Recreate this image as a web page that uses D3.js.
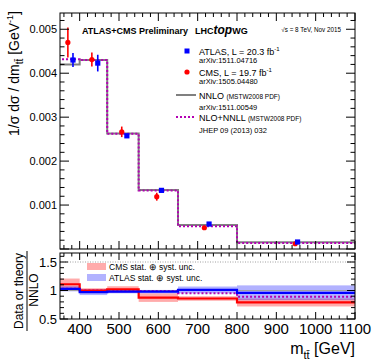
<!DOCTYPE html>
<html><head><meta charset="utf-8">
<script src="https://cdn.jsdelivr.net/npm/d3@7"></script>
<style>body{margin:0;background:#fff}svg{display:block;font-family:"Liberation Sans",Arial,sans-serif}</style>
</head><body><svg id="c" width="374" height="363"></svg>
<script>
// ---- data ----
const binEdges = [345, 400, 470, 550, 650, 800, 1100];
const nnlo     = [0.00420, 0.00430, 0.00263, 0.00134, 0.000545, 0.000152];
const nlonnll  = [0.00432, 0.00430, 0.00262, 0.00133, 0.000520, 0.000137];
const atlasX   = [383, 446, 520, 608, 729, 954];
const atlasY   = [0.00430, 0.00423, 0.002575, 0.001334, 0.000568, 0.000159];
const atlasErr = [0.00016, 0.00019, 0.00005, 0.00003, 0.00002, 0.00001];
const cmsX     = [370, 431, 507, 596, 717, 948];
const cmsY     = [0.00470, 0.00431, 0.002666, 0.00119, 0.000484, 0.00012];
const cmsErr   = [0.00034, 0.00016, 0.00012, 0.00009, 0.00002, 0.00001];
const cmsRatio      = [1.11, 1.00, 1.02, 0.875, 0.86, 0.79];
const cmsRatioErr   = [0.10, 0.04, 0.055, 0.075, 0.04, 0.07];
const atlasRatio    = [1.03, 0.97, 0.98, 0.98, 1.01, 0.96];
const atlasRatioErr = [0.045, 0.05, 0.03, 0.03, 0.06, 0.13];
const nlonnllRatio  = [1.03, 1.00, 1.00, 0.99, 0.95, 0.89];
const xTicks = [400, 500, 600, 700, 800, 900, 1000, 1100];
const yTicks = [0.001, 0.002, 0.003, 0.004, 0.005];
const rTicks = [0.5, 1, 1.5];

const svg = d3.select("#c");
const L = 60, R = 355;
const x = d3.scaleLinear().domain([350, 1100]).range([L, R]);
const y = d3.scaleLinear().domain([0, 0.00537]).range([249, 13]);
const yr = d3.scaleLinear().domain([0.5, 1.658]).range([319, 253]);

svg.append("defs").append("clipPath").attr("id","cm").append("rect")
  .attr("x",L).attr("y",13).attr("width",R-L).attr("height",236);
svg.select("defs").append("clipPath").attr("id","cr").append("rect")
  .attr("x",L).attr("y",253).attr("width",R-L).attr("height",66);

function stepPts(vals){ const p = vals.map((v,i)=>[binEdges[i], v]); p.push([binEdges[binEdges.length-1], vals[vals.length-1]]); return p; }
const lineMain = d3.line().x(d=>x(d[0])).y(d=>y(d[1])).curve(d3.curveStepAfter);
const lineR = d3.line().x(d=>x(d[0])).y(d=>yr(d[1])).curve(d3.curveStepAfter);

// ---- main panel ----
const gm = svg.append("g").attr("clip-path","url(#cm)");
gm.append("path").attr("d", lineMain(stepPts(nnlo))).attr("fill","none").attr("stroke","#808080").attr("stroke-width",2);
gm.append("path").attr("d", lineMain(stepPts(nlonnll))).attr("fill","none").attr("stroke","#b400b4").attr("stroke-width",2).attr("stroke-dasharray","2,2");

cmsY.forEach((v,i)=>{
  gm.append("line").attr("x1",x(cmsX[i])).attr("x2",x(cmsX[i])).attr("y1",y(v-cmsErr[i])).attr("y2",y(v+cmsErr[i])).attr("stroke","#ff0000").attr("stroke-width",1.6);
  gm.append("circle").attr("cx",x(cmsX[i])).attr("cy",y(v)).attr("r",2.6).attr("fill","#ff0000");
});
atlasY.forEach((v,i)=>{
  gm.append("line").attr("x1",x(atlasX[i])).attr("x2",x(atlasX[i])).attr("y1",y(v-atlasErr[i])).attr("y2",y(v+atlasErr[i])).attr("stroke","#0000ff").attr("stroke-width",1.6);
  gm.append("rect").attr("x",x(atlasX[i])-2.6).attr("y",y(v)-2.6).attr("width",5.2).attr("height",5.2).attr("fill","#0000ff");
});

// ---- ratio panel ----
const gr = svg.append("g").attr("clip-path","url(#cr)");
binEdges.slice(0,-1).forEach((e,i)=>{
  const w = x(binEdges[i+1]) - x(e);
  gr.append("rect").attr("x",x(e)).attr("width",w).attr("y",yr(cmsRatio[i]+cmsRatioErr[i])).attr("height",yr(cmsRatio[i]-cmsRatioErr[i])-yr(cmsRatio[i]+cmsRatioErr[i])).attr("fill","rgba(255,0,0,0.33)");
});
binEdges.slice(0,-1).forEach((e,i)=>{
  const w = x(binEdges[i+1]) - x(e);
  gr.append("rect").attr("x",x(e)).attr("width",w).attr("y",yr(atlasRatio[i]+atlasRatioErr[i])).attr("height",yr(atlasRatio[i]-atlasRatioErr[i])-yr(atlasRatio[i]+atlasRatioErr[i])).attr("fill","rgba(0,0,255,0.3)");
});
gr.append("line").attr("x1",L).attr("x2",R).attr("y1",yr(1.5)).attr("y2",yr(1.5)).attr("stroke","#888").attr("stroke-width",0.8).attr("stroke-dasharray","1,1.5");
gr.append("line").attr("x1",L).attr("x2",R).attr("y1",yr(1)).attr("y2",yr(1)).attr("stroke","#a0a0a0").attr("stroke-width",1);
gr.append("path").attr("d", lineR(stepPts(nlonnllRatio))).attr("fill","none").attr("stroke","#b400b4").attr("stroke-width",2).attr("stroke-dasharray","2,2");
gr.append("path").attr("d", lineR(stepPts(cmsRatio))).attr("fill","none").attr("stroke","#ff0000").attr("stroke-width",2.2);
gr.append("path").attr("d", lineR(stepPts(atlasRatio))).attr("fill","none").attr("stroke","#0000ff").attr("stroke-width",2.2);

// ratio legend
svg.append("rect").attr("x",87).attr("y",263).attr("width",19).attr("height",7).attr("fill","rgba(255,0,0,0.33)");
svg.append("rect").attr("x",87).attr("y",274).attr("width",19).attr("height",7).attr("fill","rgba(0,0,255,0.3)");
svg.append("text").attr("x",109).attr("y",269.5).attr("font-size",8.5).text("CMS stat. \u2295 syst. unc.");
svg.append("text").attr("x",109).attr("y",280.5).attr("font-size",8.5).text("ATLAS stat. \u2295 syst. unc.");

// ---- frames & ticks ----
function frame(t,b){ svg.append("rect").attr("x",L).attr("y",t).attr("width",R-L).attr("height",b-t).attr("fill","none").attr("stroke","#000").attr("stroke-width",1); }
frame(13,249); frame(253,319);
function tk(x1,y1,x2,y2){ svg.append("line").attr("x1",x1).attr("y1",y1).attr("x2",x2).attr("y2",y2).attr("stroke","#000").attr("stroke-width",1); }
// x ticks
d3.range(360, 1101, 20).forEach(v=>{
  const major = v % 100 === 0; const px = x(v);
  const lm = major ? 8 : 4, lr = major ? 7 : 3.5;
  tk(px,13,px,13+lm); tk(px,249,px,249-lm);
  tk(px,253,px,253+lr); tk(px,319,px,319-lr);
});
// y ticks main
d3.range(0, 0.00531, 0.0002).forEach(v=>{
  const major = Math.abs(v/0.001 - Math.round(v/0.001)) < 1e-6; const py = y(v);
  const l = major ? 9 : 4.5;
  tk(L,py,L+l,py); tk(R,py,R-l,py);
});
// y ticks ratio
d3.range(0.5, 1.651, 0.1).forEach(v=>{
  const major = Math.abs(v*2 - Math.round(v*2)) < 1e-6; const py = yr(v);
  const l = major ? 8 : 4;
  tk(L,py,L+l,py); tk(R,py,R-l,py);
});

// tick labels
yTicks.forEach(v=> svg.append("text").attr("x",57).attr("y",y(v)+4).attr("text-anchor","end").attr("font-size",11).text(d3.format(".3f")(v)));
rTicks.forEach(v=> svg.append("text").attr("x",57).attr("y",yr(v)+4.5).attr("text-anchor","end").attr("font-size",13).text(v));
xTicks.forEach(v=> svg.append("text").attr("x",x(v)).attr("y",334).attr("text-anchor","middle").attr("font-size",15).text(v));

// axis titles
const yt = svg.append("text").attr("transform","translate(19,11) rotate(-90)").attr("text-anchor","end").attr("font-size",14);
yt.append("tspan").text("1/\u03c3 d\u03c3 / dm");
yt.append("tspan").attr("font-size",10).attr("dy",4).text("tt\u0304");
yt.append("tspan").attr("dy",-4).text(" [GeV");
yt.append("tspan").attr("font-size",9).attr("dy",-6).text("-1");
yt.append("tspan").attr("dy",6).text("]");

svg.append("text").attr("transform","translate(23,291) rotate(-90)").attr("text-anchor","middle").attr("font-size",12).text("Data or theory");
svg.append("line").attr("x1",27).attr("x2",27).attr("y1",251).attr("y2",331).attr("stroke","#000").attr("stroke-width",1);
svg.append("text").attr("transform","translate(38,290) rotate(-90)").attr("text-anchor","middle").attr("font-size",12).text("NNLO");

const xt = svg.append("text").attr("x",355).attr("y",354).attr("text-anchor","end").attr("font-size",16);
xt.append("tspan").text("m");
xt.append("tspan").attr("font-size",11).attr("dy",5).text("tt\u0304");
xt.append("tspan").attr("dy",-5).text(" [GeV]");

// header
svg.append("text").attr("x",82).attr("y",33.5).attr("font-size",9).attr("font-weight","bold").text("ATLAS+CMS Preliminary");
const lh = svg.append("text").attr("x",195).attr("y",33.5).attr("font-size",9).attr("font-weight","bold");
lh.append("tspan").text("LHC");
lh.append("tspan").attr("font-size",12).attr("font-style","italic").text("top");
lh.append("tspan").text("WG");
svg.append("text").attr("x",341).attr("y",32).attr("text-anchor","end").attr("font-size",6.3).text("\u221as = 8 TeV, Nov 2015");

// main legend
svg.append("rect").attr("x",184.5).attr("y",48.5).attr("width",5).attr("height",5).attr("fill","#0000ff");
svg.append("circle").attr("cx",187).attr("cy",72).attr("r",2.6).attr("fill","#ff0000");
svg.append("line").attr("x1",176).attr("x2",196).attr("y1",95).attr("y2",95).attr("stroke","#808080").attr("stroke-width",2);
svg.append("line").attr("x1",176).attr("x2",196).attr("y1",117).attr("y2",117).attr("stroke","#b400b4").attr("stroke-width",2).attr("stroke-dasharray","2,2");
function lt(yy, size, parts){ const t = svg.append("text").attr("x",199).attr("y",yy).attr("font-size",size); parts.forEach(p=>{ const s=t.append("tspan").text(p[0]); if(p[1]) s.attr("font-size",p[1]); if(p[2]) s.attr("dy",p[2]); }); }
lt(54.5, 9, [["ATLAS, L = 20.3 fb"],["-1",6,-4]]);
lt(62.5, 7.5, [["arXiv:1511.04716"]]);
lt(75.5, 9, [["CMS, L = 19.7 fb"],["-1",6,-4]]);
lt(83.5, 7.5, [["arXiv:1505.04480"]]);
lt(98.5, 9, [["NNLO "],["(MSTW2008 PDF)",6.5]]);
lt(109.5, 7.5, [["arXiv:1511.00549"]]);
lt(120.5, 9, [["NLO+NNLL "],["(MSTW2008 PDF)",6.5]]);
lt(132.5, 7.5, [["JHEP 09 (2013) 032"]]);
</script></body></html>
